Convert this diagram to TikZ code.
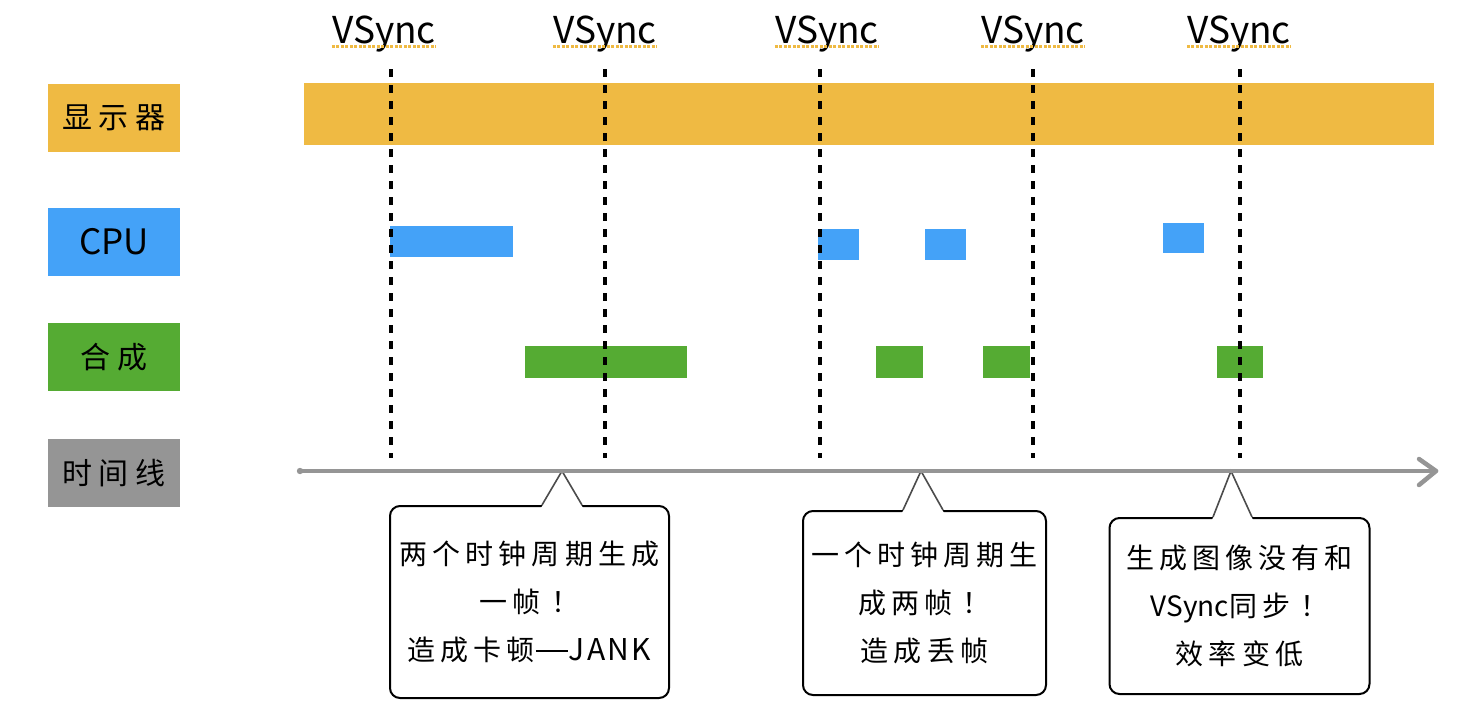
\documentclass[tikz,border=0pt]{standalone}
\usepackage{fontspec}
\setmainfont{Noto Sans CJK SC}
\newfontfamily\latf{Noto Sans CJK SC}
\newfontfamily\latwide{Noto Sans CJK SC}[LetterSpace=8]
\newfontfamily\cjkspaced{Noto Sans CJK SC}[LetterSpace=18]
\newfontfamily\cjkwide{Noto Sans CJK SC}[LetterSpace=22]
\newcommand{\bangmark}{\hspace{10pt}！}
\newcommand{\longdash}{\hspace{1pt}\rule[9pt]{32pt}{1.6pt}\hspace{1pt}}
\definecolor{dispY}{HTML}{EFBA43}
\definecolor{cpuB}{HTML}{44A2F8}
\definecolor{compG}{HTML}{55AB33}
\definecolor{timeG}{HTML}{959595}
\begin{document}
\begin{tikzpicture}[x=1pt,y=-1pt,
  lab/.style={minimum width=132pt, minimum height=68pt, inner sep=0pt, font=\cjkwide\fontsize{30}{36}\selectfont},
  vs/.style={inner sep=0pt, anchor=base, font=\fontsize{37}{40}\selectfont},
  uline/.style={draw=dispY, line width=3pt, dash pattern=on 3pt off 1.5pt},
  vline/.style={line width=4pt, dash pattern=on 8pt off 8pt},
  callbox/.style={draw, line width=2pt, rounded corners=10pt, fill=white, inner sep=0pt,
    align=center, font=\cjkspaced\fontsize{28}{48}\selectfont},
  tail/.style={draw=black!70, line width=1.6pt, line join=miter},
  tline/.style={draw=timeG, line width=4.5pt, line cap=round, line join=round}
]
\useasboundingbox (0,0) rectangle (1478,710);

% row labels
\node[lab, fill=dispY] (ldisp) at (114,118) {显示器};
\node[lab, fill=cpuB]  (lcpu)  at (114,242) {\latf\fontsize{35}{38}\selectfont CPU};
\node[lab, fill=compG] (lcomp) at (114,357) {合成};
\node[lab, fill=timeG] (ltime) at (114,473) {时间线};

% display bar
\fill[dispY] (304,83) rectangle (1434,145);

% CPU bars
\fill[cpuB] (390,226) rectangle (513,257);
\fill[cpuB] (818,229) rectangle (859,260);
\fill[cpuB] (925,229) rectangle (966,260);
\fill[cpuB] (1163,223) rectangle (1204,253);

% compose bars
\fill[compG] (525,346) rectangle (687,378);
\fill[compG] (876,346) rectangle (923,378);
\fill[compG] (983,346) rectangle (1030,378);
\fill[compG] (1217,346) rectangle (1263,378);

% VSync labels
\node[vs] (vs1) at (384,43) {VSync};
\node[vs] (vs2) at (605,43) {VSync};
\node[vs] (vs3) at (827,43) {VSync};
\node[vs] (vs4) at (1033,43) {VSync};
\node[vs] (vs5) at (1239,43) {VSync};
\foreach \n in {vs1,vs2,vs3,vs4,vs5}
  \draw[uline] ([yshift=-3pt]\n.base west) -- ([yshift=-3pt]\n.base east);

% VSync dashed lines
\foreach \i/\x in {1/391,2/605,3/820,4/1033,5/1240}{
  \coordinate (d\i t) at (\x,69);
  \coordinate (d\i b) at (\x,458);
  \draw[vline] (d\i t) -- (d\i b);
}

% callouts
\node[callbox, minimum width=279pt, minimum height=192pt] (c1) at (529.5,602)
  {两个时钟周期生成\\一帧\bangmark\\造成卡顿\longdash{\latwide\fontsize{30}{48}\selectfont JANK}};
\node[callbox, minimum width=243pt, minimum height=184pt] (c2) at (924.5,603)
  {一个时钟周期生\\成两帧\bangmark\\造成丢帧};
\node[callbox, minimum width=260pt, minimum height=176pt] (c3) at (1239.5,606)
  {生成图像没有和\\{\latf VSync}同步\bangmark\\效率变低};

\coordinate (p1) at (562,471);
\coordinate (p2) at (921,471);
\coordinate (p3) at (1231,471);
\fill[white] (541,508) -- (p1) -- (583,508) -- cycle;
\draw[tail] (542,505) -- (p1) -- (582,505);
\fill[white] (902,513) -- (p2) -- (944,513) -- cycle;
\draw[tail] (903,510) -- (p2) -- (943,510);
\fill[white] (1212,520) -- (p3) -- (1253,520) -- cycle;
\draw[tail] (1213,517) -- (p3) -- (1252,517);

% timeline
\coordinate (t0) at (300,471);
\coordinate (t1) at (1436,471);
\coordinate (h1) at (1419,459);
\coordinate (h2) at (1419,485);
\draw[tline] (t0) -- (t1);
\draw[tline] (h1) -- (t1) -- (h2);
\fill[timeG] (t0) circle (3.2pt);
\end{tikzpicture}
\end{document}
